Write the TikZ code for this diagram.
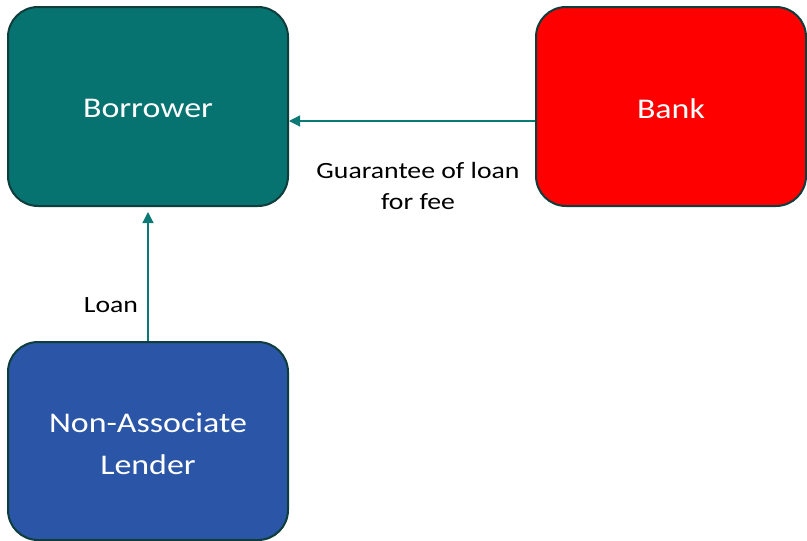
\documentclass[tikz,border=0pt]{standalone}
\usepackage{fontspec}
\setmainfont{Carlito}[FakeStretch=1.19]
\usetikzlibrary{arrows.meta}
\definecolor{edgec}{HTML}{0E3D3C}
\definecolor{tealf}{HTML}{077370}
\definecolor{bluef}{HTML}{2B55A6}
\definecolor{arrc}{HTML}{0B7A76}
\begin{document}
\begin{tikzpicture}[x=1pt,y=-1pt,
  box/.style={draw=edgec,line width=2pt,rounded corners=30pt,inner sep=0pt},
  boxtext/.style={text=white,font=\fontsize{28.5}{42}\selectfont,align=center,inner sep=0pt},
  conn/.style={draw=arrc,line width=1.2pt,-{Triangle[length=11pt,width=11pt]}},
  lbl/.style={font=\fontsize{23.3}{31}\selectfont,align=center,text=black}]
\useasboundingbox (0,0) rectangle (807,541);
\node[box,fill=tealf,minimum width=280pt,minimum height=199pt] (bor) at (148,106.5) {};
\node[box,fill=red,minimum width=270pt,minimum height=199pt] (bank) at (671,106.5) {};
\node[box,fill=bluef,minimum width=280pt,minimum height=198pt] (len) at (148,441) {};
\node[boxtext] (bort) at ([yshift=-2pt]bor.center) {Borrower};
\node[boxtext] (bankt) at ([yshift=-2pt]bank.center) {Bank};
\node[boxtext] (lent) at ([yshift=-3pt]len.center) {Non-Associate\\Lender};
\coordinate (t1) at (289,121);
\coordinate (s1) at (bank.west |- t1);
\draw[conn] (s1) -- (t1);
\coordinate (t2) at (148,212);
\draw[conn] (len.north) -- (t2);
\node[lbl] (g) at (418,186) {Guarantee of loan\\for fee};
\node[lbl] (l) at (111,305) {Loan};
\end{tikzpicture}
\end{document}
